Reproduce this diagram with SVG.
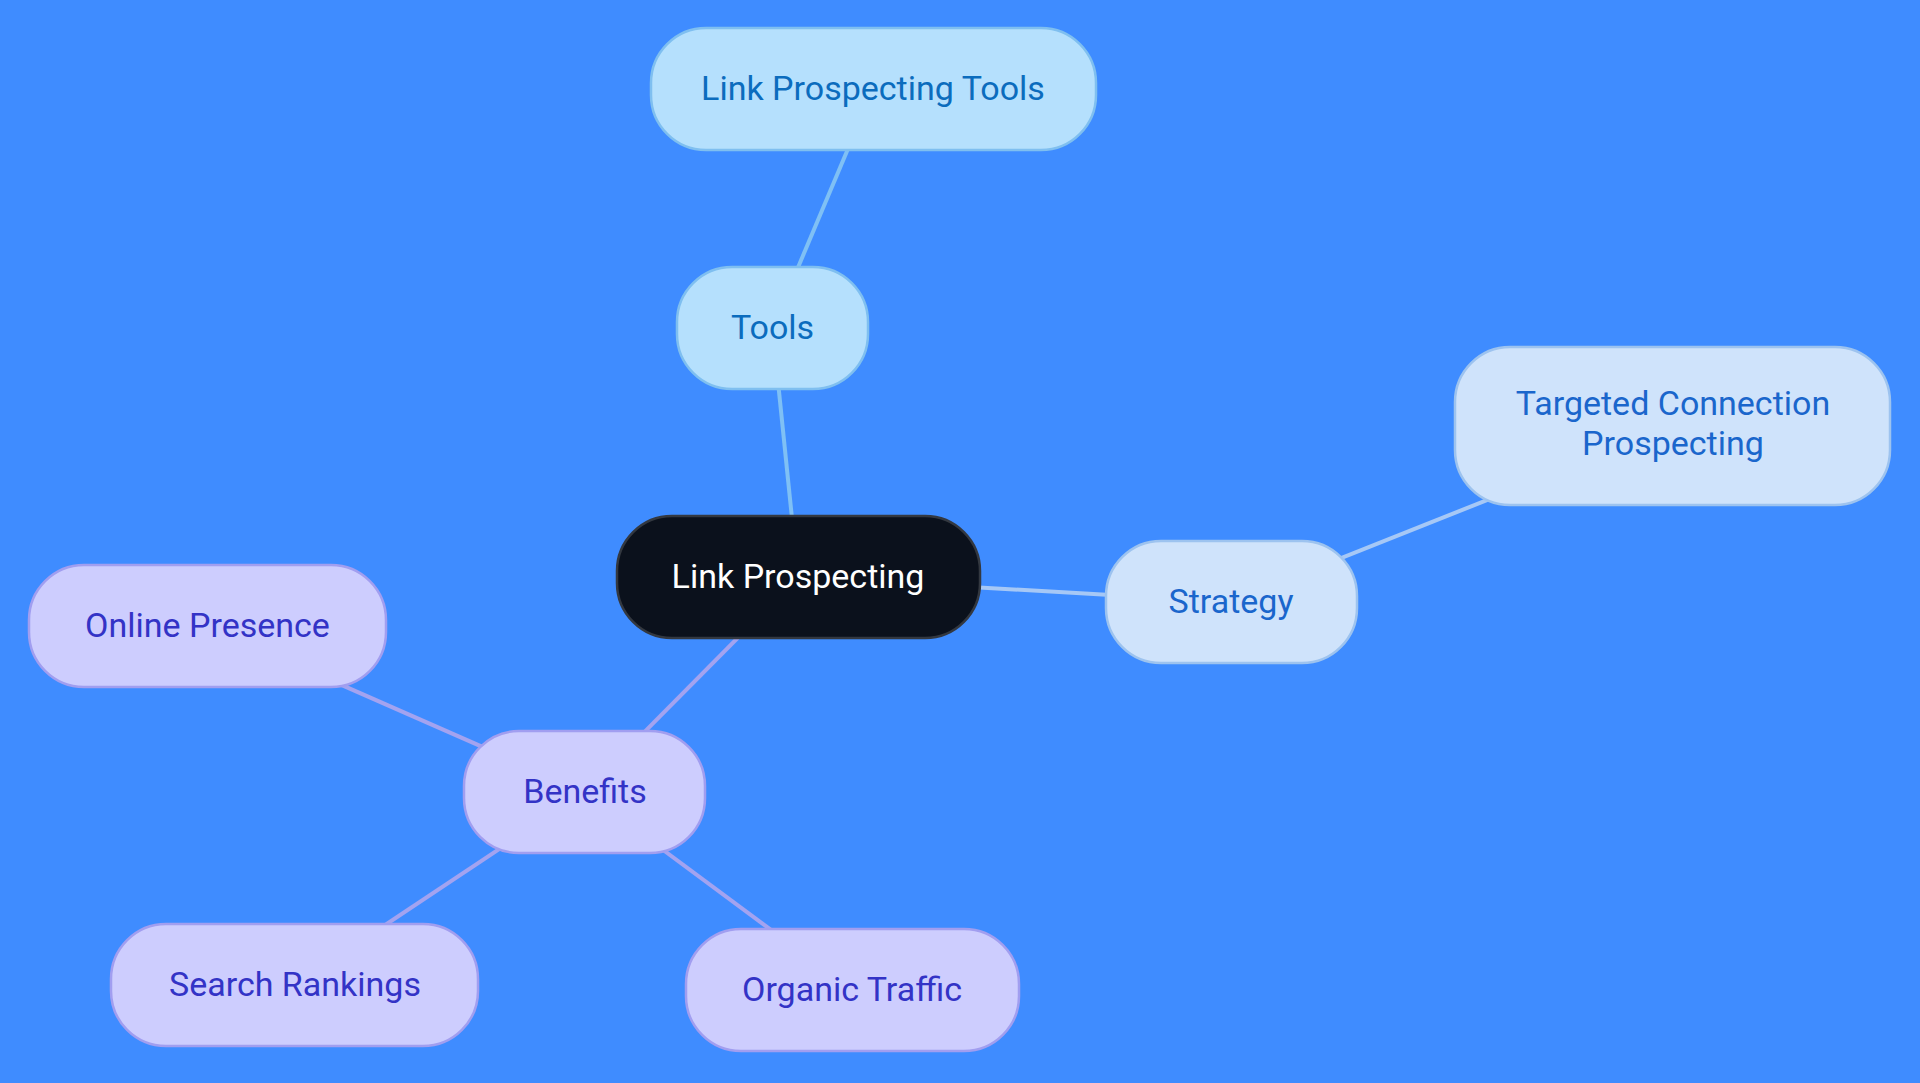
<svg xmlns="http://www.w3.org/2000/svg" width="1920" height="1083" viewBox="0 0 1920 1083">
<style>
text{font-family:Roboto,"Liberation Sans",sans-serif;font-size:34px;text-anchor:middle}
.tl rect{fill:#b5e0fd;stroke:#7fbff0;stroke-width:2.5}
.tl text{fill:#0b6cbd}
.st rect{fill:#cfe3fb;stroke:#9dc3ef;stroke-width:2.5}
.st text{fill:#1a66cc}
.bn rect{fill:#cdcdfe;stroke:#a19ef0;stroke-width:2.5}
.bn text{fill:#3333c6}
.rt rect{fill:#0b111c;stroke:#333840;stroke-width:2.5}
.rt text{fill:#ffffff}
#connectors line{stroke-width:4;fill:none}
.c-tl{stroke:#7fc0f5}
.c-st{stroke:#a6c8f6}
.c-bn{stroke:#a3a3f0}
</style>
<rect width="1920" height="1083" fill="#3f8cff"/>
<g id="connectors">
<line class="c-tl" x1="873" y1="89.5" x2="772.5" y2="328"/>
<line class="c-tl" x1="772.5" y1="328" x2="798" y2="577"/>
<line class="c-st" x1="798" y1="577" x2="1231" y2="602"/>
<line class="c-st" x1="1231" y1="602" x2="1673" y2="426"/>
<line class="c-bn" x1="798" y1="577" x2="585" y2="792"/>
<line class="c-bn" x1="585" y1="792" x2="207.5" y2="626"/>
<line class="c-bn" x1="585" y1="792" x2="295" y2="985"/>
<line class="c-bn" x1="585" y1="792" x2="852" y2="990"/>
</g>
<g id="node-link-prospecting-tools" class="tl">
<rect x="651" y="28" width="445" height="122" rx="55"/>
<text x="873" y="100">Link Prospecting Tools</text>
</g>
<g id="node-tools" class="tl">
<rect x="677" y="267" width="191" height="122" rx="55"/>
<text x="772.5" y="339">Tools</text>
</g>
<g id="node-root" class="rt">
<rect x="617" y="516" width="363" height="122" rx="55"/>
<text x="798" y="588">Link Prospecting</text>
</g>
<g id="node-strategy" class="st">
<rect x="1106" y="541" width="251" height="122" rx="55"/>
<text x="1231" y="613">Strategy</text>
</g>
<g id="node-targeted" class="st">
<rect x="1455" y="347" width="435" height="158" rx="55"/>
<text x="1673" y="415">Targeted Connection</text>
<text x="1673" y="455">Prospecting</text>
</g>
<g id="node-benefits" class="bn">
<rect x="464" y="731" width="241" height="122" rx="55"/>
<text x="585" y="803">Benefits</text>
</g>
<g id="node-online-presence" class="bn">
<rect x="29" y="565" width="357" height="122" rx="55"/>
<text x="207.5" y="637">Online Presence</text>
</g>
<g id="node-search-rankings" class="bn">
<rect x="111" y="924" width="367" height="122" rx="55"/>
<text x="295" y="996">Search Rankings</text>
</g>
<g id="node-organic-traffic" class="bn">
<rect x="686" y="929" width="333" height="122" rx="55"/>
<text x="852" y="1001">Organic Traffic</text>
</g>
</svg>
